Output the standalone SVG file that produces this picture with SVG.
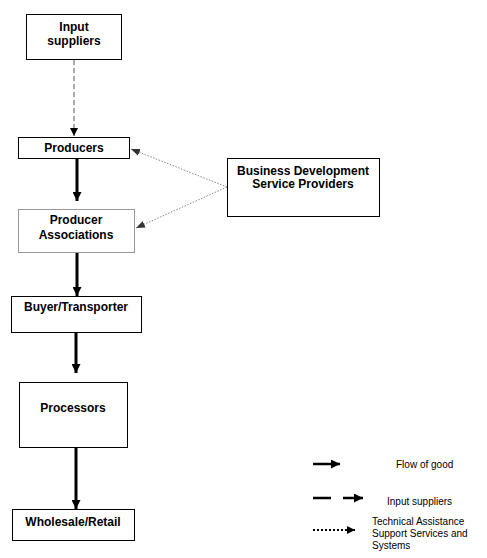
<svg xmlns="http://www.w3.org/2000/svg" width="487" height="558" viewBox="0 0 487 558">
<style>
.box{fill:#fff;stroke:#000;stroke-width:1}
.t{font-family:"Liberation Sans",Arial,sans-serif;font-size:12px;font-weight:bold;fill:#000;text-anchor:middle}
.l{font-family:"Liberation Sans",Arial,sans-serif;font-size:10px;fill:#000}
.flow{stroke:#000;stroke-width:3;fill:none}
.dash{stroke:#555;stroke-width:1;stroke-dasharray:5,3;fill:none}
.dot{stroke:#888;stroke-width:1;stroke-dasharray:1.5,1.5;fill:none}
</style>
<defs>
<marker id="ah" viewBox="0 0 10 10" refX="10" refY="5" markerWidth="9" markerHeight="9" orient="auto" markerUnits="userSpaceOnUse"><path d="M0,0L10,5L0,10z" fill="#000"/></marker>
<marker id="ahs" viewBox="0 0 10 10" refX="10" refY="5" markerWidth="8" markerHeight="8" orient="auto" markerUnits="userSpaceOnUse"><path d="M0,0L10,5L0,10z" fill="#000"/></marker>
<marker id="ahg" viewBox="0 0 10 10" refX="10" refY="5" markerWidth="9" markerHeight="9" orient="auto" markerUnits="userSpaceOnUse"><path d="M0,1L10,5L0,9z" fill="#333"/></marker>
</defs>
<g id="input-suppliers"><rect class="box" x="26.5" y="14.5" width="95" height="45"/><text class="t" x="74" y="31">Input</text><text class="t" x="74" y="45">suppliers</text></g>
<g id="producers"><rect class="box" x="18.5" y="137.5" width="111" height="21"/><text class="t" x="74" y="152">Producers</text></g>
<g id="producer-associations"><rect class="box" x="18.5" y="209.5" width="116" height="43" style="stroke:#999"/><text class="t" x="76" y="224">Producer</text><text class="t" x="76" y="239">Associations</text></g>
<g id="bds"><rect class="box" x="227.5" y="158.5" width="152" height="58"/><text class="t" x="303" y="175">Business Development</text><text class="t" x="303" y="188">Service Providers</text></g>
<g id="buyer"><rect class="box" x="11.5" y="296.5" width="130" height="36"/><text class="t" x="76" y="311">Buyer/Transporter</text></g>
<g id="processors"><rect class="box" x="19.5" y="382.5" width="108" height="65"/><text class="t" x="73" y="412">Processors</text></g>
<g id="wholesale"><rect class="box" x="12.5" y="509.5" width="122" height="31"/><text class="t" x="73" y="526">Wholesale/Retail</text></g>
<g id="connectors">
<path class="dash" d="M74,60V136" marker-end="url(#ahs)"/>
<path class="flow" d="M77,159V201" marker-end="url(#ah)"/>
<path class="flow" d="M77,253V296" marker-end="url(#ah)"/>
<path class="flow" d="M76,333V373" marker-end="url(#ah)"/>
<path class="flow" d="M76,448V509" marker-end="url(#ah)"/>
<path class="dot" d="M227,187L131,149" marker-end="url(#ahg)"/>
<path class="dot" d="M227,187L136,228" marker-end="url(#ahg)"/>
</g>
<g id="legend">
<path class="flow" style="stroke-width:2.5" d="M313,464H340" marker-end="url(#ah)"/>
<text class="l" x="396" y="468">Flow of good</text>
<path class="flow" style="stroke-width:2.5" d="M313,498H331M343,498H363" marker-end="url(#ah)"/>
<text class="l" x="387" y="505">Input suppliers</text>
<path d="M313,530H355" style="stroke:#000;stroke-width:2;stroke-dasharray:2,2;fill:none" marker-end="url(#ahs)"/>
<text class="l" x="372" y="525">Technical Assistance</text>
<text class="l" x="372" y="537">Support Services and</text>
<text class="l" x="372" y="549">Systems</text>
</g>
</svg>
